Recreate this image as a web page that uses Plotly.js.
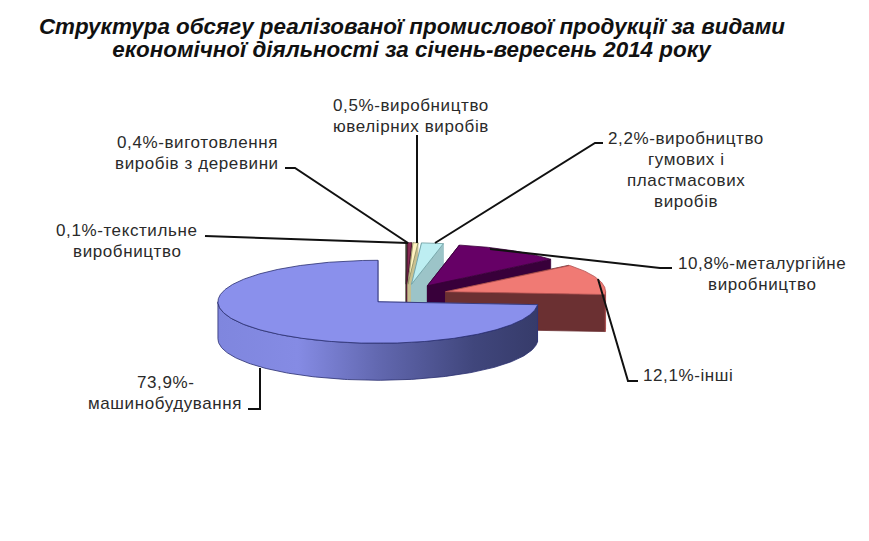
<!DOCTYPE html>
<html>
<head>
<meta charset="utf-8">
<script src="https://cdn.plot.ly/plotly-3.0.1.min.js"></script>
<style>html,body{margin:0;padding:0;background:#fff}#chart{width:869px;height:541px}
.annotation-text{letter-spacing:.6px}</style>
</head>
<body>
<div id="chart"></div>
<script>
// Data, clockwise from 12 o'clock
const categories = ['текстильне<br>виробництво','виготовлення<br>виробів з деревини','виробництво<br>ювелірних виробів','виробництво<br>гумових і<br>пластмасових<br>виробів','металургійне<br>виробництво','інші','<br>машинобудування'];
const shares = [0.1, 0.4, 0.5, 2.2, 10.8, 12.1, 73.9];
const explode = [0.26, 0.26, 0.26, 0.26, 0.26, 0.26, 0.24];
const topColors = ['#5f6b3a','#8a2a55','#fff3c0','#bdeef2','#660066','#f07a74','#8a90ec'];
const wallColors = ['#3c4426','#5a1c38','#c8c090','#9cc4c8','#38003a','#6b3032','#6066b0'];
const edgeColors = ['#333','#4a1530','#8a8a60','#6a9a9e','#3a003a','#b05050','#2a2f70'];
const titleLines = ['Структура обсягу реалізованої промислової продукції за видами','економічної діяльності за січень-вересень 2014 року'];

// Pie projection (pixels = axis units)
const C = {x:406, y:295, rx:160, ry:41.5, depth:37};
const labelPos = [[127,240.5],[197,153],[411,115.5],[686,169.5],[762,273.5],[688,375],[165,392.5]];
const lineGap = 21;
const leaders = [
  [[205,236],[408,243]],
  [[285,168],[295,168],[408,243]],
  [[417,135],[417,243]],
  [[603,143],[595,143],[435,243]],
  [[672,268],[660,268],[490,249]],
  [[638,381],[628,381],[598,279]],
  [[248,409],[260,409],[260,368]]
];

const rad = d => d*Math.PI/180;
const rim = (a,d) => [a.x + C.rx*Math.sin(rad(d)), a.y - C.ry*Math.cos(rad(d))];
const total = shares.reduce((s,v)=>s+v,0);
let traces = [];
let acc = 0;
const poly = (pts,fill,line,extra) => Object.assign({
  x: pts.map(p=>p[0]), y: pts.map(p=>p[1]), type:'scatter', mode:'lines', fill:'toself',
  fillcolor: fill, line:{color:line,width:0.8}, hoverinfo:'skip', showlegend:false
}, extra||{});

shares.forEach((v,i)=>{
  const a0 = acc/total*360, a1 = (acc+v)/total*360; acc += v;
  const mid = (a0+a1)/2;
  const apex = {x: C.x + explode[i]*C.rx*Math.sin(rad(mid)), y: C.y - explode[i]*C.ry*Math.cos(rad(mid))};
  const down = p => [p[0], p[1]+C.depth];
  // radial faces
  [a0,a1].forEach(d=>{
    const r = rim(apex,d), A=[apex.x,apex.y];
    traces.push(poly([A,r,down(r),down(A),A], wallColors[i], wallColors[i]));
  });
  // outer wall (front half only)
  const w0 = Math.max(a0,90), w1 = Math.min(a1,270);
  if (w1 > w0) {
    const arc = [];
    for (let d=w0; d<w1; d+=1) arc.push(rim(apex,d));
    arc.push(rim(apex,w1));
    const pts = arc.concat(arc.slice().reverse().map(down)); pts.push(arc[0]);
    const extra = i===6 ? {fillgradient:{type:'horizontal',colorscale:[[0,'#7f86de'],[0.25,'#858be4'],[0.5,'#6268b0'],[0.8,'#40467c'],[1,'#363b6a']]}} : {};
    traces.push(poly(pts, wallColors[i], edgeColors[i], extra));
  }
  // top face
  const top = [[apex.x,apex.y]];
  for (let d=a0; d<a1; d+=0.5) top.push(rim(apex,d));
  top.push(rim(apex,a1)); top.push([apex.x,apex.y]);
  traces.push(poly(top, topColors[i], edgeColors[i]));
});

leaders.forEach(l=>traces.push({x:l.map(p=>p[0]),y:l.map(p=>p[1]),type:'scatter',mode:'lines',
  line:{color:'#111',width:2},hoverinfo:'skip',showlegend:false}));

const pct = v => v.toFixed(1).replace('.',',')+'%-';
const labelFont = {family:'Liberation Sans, Arial, sans-serif',size:17,color:'#2a2a2a'};
const titleFont = {family:'Liberation Sans, Arial, sans-serif',size:22.4,color:'#111',weight:'bold',style:'italic'};
const annotations = [];
categories.forEach((c,i)=>{
  const lines = (pct(shares[i])+c).split('<br>');
  lines.forEach((t,k)=>annotations.push({
    x:labelPos[i][0], y:labelPos[i][1]+(k-(lines.length-1)/2)*lineGap, xref:'x', yref:'y', text:t, showarrow:false,
    xanchor:'center', yanchor:'middle', font:labelFont
  }));
});
annotations.push({x:412,y:49,xref:'x',yref:'y',text:titleLines[1],showarrow:false,xanchor:'center',yanchor:'middle',font:titleFont});

const layout = {
  width:869, height:541, margin:{l:0,r:0,t:0,b:0}, paper_bgcolor:'#fff', plot_bgcolor:'#fff', showlegend:false,
  title:{text:titleLines[0], x:412/869, xanchor:'center', y:1-26/541, yanchor:'middle', font:titleFont},
  xaxis:{range:[0,869],visible:false,fixedrange:true},
  yaxis:{range:[541,0],visible:false,fixedrange:true},
  annotations
};
Plotly.newPlot('chart',traces,layout,{displayModeBar:false,staticPlot:true}).then(gd=>{
  const els = gd.querySelectorAll('.annotation-text');
  if (els.length) els[els.length-1].style.letterSpacing = '0';
});
</script>
</body>
</html>
